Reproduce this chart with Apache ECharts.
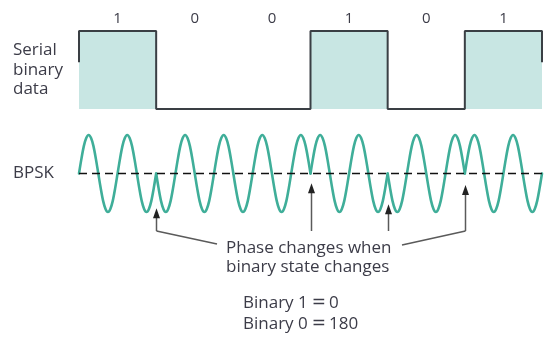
<!DOCTYPE html>
<html><head><meta charset="utf-8">
<script src="https://cdn.jsdelivr.net/npm/echarts@6/dist/echarts.min.js"></script>
<style>html,body{margin:0;padding:0;background:#fff}#c{width:544px;height:345px}</style>
</head><body><div id="c"></div>
<script>
// ---- data ----
const bitLabels = ['1', '0', '0', '1', '0', '1'];
const bits = [1, 0, 0, 1, 0, 1];
// serial square wave: [bit position, level]; the two outer edges are only partly drawn
const serialPoints = [[0, 0.6], [0, 1], [1, 0], [2, 0], [3, 1], [4, 0], [5, 1], [6, 1], [6, 0.6]];
// carrier shape over one cycle (phase 0), sampled every 1/16 cycle; two cycles per bit
const carrierCycle = [0, 0.38, 0.71, 0.92, 1, 0.92, 0.71, 0.38, 0, -0.38, -0.71, -0.92, -1, -0.92, -0.71, -0.38];
const cyclesPerBit = 2;
// BPSK axis reference line
const baseline = [[0, 0], [6.02, 0]];
// where the arrows point (bit boundaries) and their tip height on the BPSK scale
const arrowBoundaries = [1, 3, 4, 5];
const arrowTips = [-0.9, -0.25, -0.8, -0.3];

const textColor = '#3c3c48';
const waveColor = '#3fae99';

const chart = echarts.init(document.getElementById('c'), null, {renderer: 'canvas'});

// one bit of carrier: the cycle shape repeated, closed by its starting value
const bitShape = [];
for (let c = 0; c < cyclesPerBit; c++) bitShape.push(...carrierCycle);
bitShape.push(carrierCycle[0]);

const bpskSeries = bits.map((b, i) => ({
  type: 'line', xAxisIndex: 1, yAxisIndex: 1, smooth: 0.3, symbol: 'none', clip: false,
  lineStyle: {color: waveColor, width: 2.6, join: 'round', cap: 'round'}, z: 3,
  data: bitShape.map((v, k) => [i + k / (bitShape.length - 1), b ? v : -v])
}));

chart.setOption({
  animation: false,
  grid: [
    {left: 79, top: 31, width: 463, height: 78},
    {left: 79, top: 135, width: 463, height: 77}
  ],
  xAxis: [
    {type: 'value', gridIndex: 0, min: 0, max: 6, show: false},
    {type: 'value', gridIndex: 1, min: 0, max: 6, show: false},
    {type: 'category', gridIndex: 0, position: 'top', data: bitLabels, boundaryGap: true,
     axisLine: {show: false}, axisTick: {show: false}, splitLine: {show: false},
     axisLabel: {margin: 5, color: textColor, fontSize: 15, fontFamily: 'Open Sans'}}
  ],
  yAxis: [
    {type: 'value', gridIndex: 0, min: 0, max: 1, show: false},
    {type: 'value', gridIndex: 1, min: -1, max: 1, show: false}
  ],
  series: [
    {type: 'line', xAxisIndex: 0, yAxisIndex: 0, step: 'end', symbol: 'none', clip: false,
     data: serialPoints, lineStyle: {color: '#3a3f44', width: 2},
     areaStyle: {color: '#c8e6e3', opacity: 1}, z: 2},
    {type: 'line', xAxisIndex: 1, yAxisIndex: 1, symbol: 'none', clip: false, data: baseline,
     lineStyle: {color: '#111', width: 1.5, type: [8, 5]}, z: 4}
  ].concat(bpskSeries)
});

function px(x, y) { return chart.convertToPixel({xAxisIndex: 1, yAxisIndex: 1}, [x, y]); }

const graphics = [];
const txt = (t, x, y, size, rich) => ({type: 'text', x: x, y: y, z: 10,
  style: {text: t, fill: textColor, font: size + 'px "Open Sans"', verticalAlign: 'middle', align: 'left',
    rich: rich}});
const eqRich = {
  a: {fontFamily: 'Open Sans', fontSize: 17, fill: textColor},
  e: {fontFamily: 'DejaVu Sans', fontSize: 17, fill: textColor, padding: [0, 3, 0, 4]}
};
graphics.push(txt('Serial', 13, 50, 17), txt('binary', 13, 70, 17), txt('data', 13, 89, 17));
graphics.push(txt('BPSK', 13, 173, 17));
graphics.push(txt('Phase changes when', 226, 248, 17), txt('binary state changes', 226, 267, 17));
graphics.push(txt('{a|Binary 1}{e|=}{a|0}', 243, 303, 17, eqRich),
              txt('{a|Binary 0}{e|=}{a|180}', 243, 324, 17, eqRich));

const lineBottom = 231;
arrowBoundaries.forEach((bx, i) => {
  const p = px(bx, arrowTips[i]);
  const x = Math.round(p[0]) + 0.5, ty = p[1];
  graphics.push({type: 'line', shape: {x1: x, y1: ty + 8, x2: x, y2: lineBottom},
    style: {stroke: '#5a5a5a', lineWidth: 1.5}, z: 10});
  graphics.push({type: 'polygon', shape: {points: [[x, ty], [x - 3.5, ty + 10], [x + 3.5, ty + 10]]},
    style: {fill: '#222'}, z: 10});
});
const pl = px(arrowBoundaries[0], 0), pr = px(arrowBoundaries[arrowBoundaries.length - 1], 0);
graphics.push({type: 'polyline', shape: {points: [[Math.round(pl[0]) + 0.5, lineBottom], [217, 244]]},
  style: {stroke: '#5a5a5a', lineWidth: 1.5, fill: null}, z: 10});
graphics.push({type: 'polyline', shape: {points: [[Math.round(pr[0]) + 0.5, lineBottom], [402, 245]]},
  style: {stroke: '#5a5a5a', lineWidth: 1.5, fill: null}, z: 10});

chart.setOption({graphic: graphics});
</script></body></html>
